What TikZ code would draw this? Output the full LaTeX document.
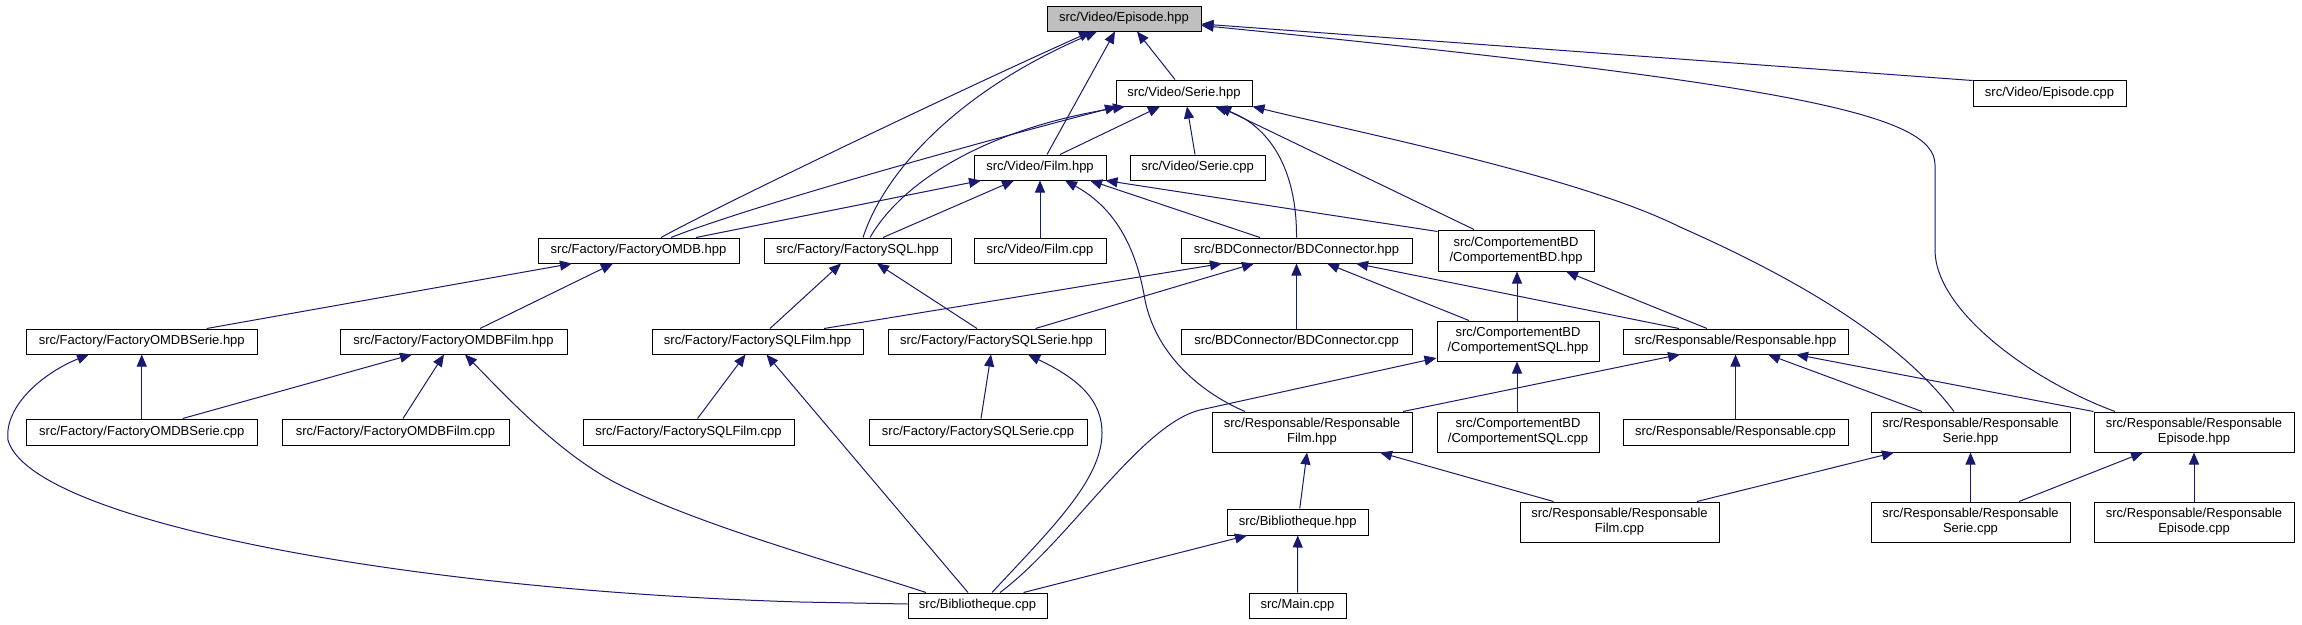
\documentclass[tikz,border=0pt]{standalone}
\usepackage{fontspec}
\setmainfont{Liberation Sans}
\usetikzlibrary{arrows.meta}
\definecolor{edgecol}{HTML}{191970}
\definecolor{focusfill}{HTML}{BFBFBF}
\begin{document}
\begin{tikzpicture}[x=1pt,y=-1pt,
  box/.style={draw=black, line width=1pt, fill=white, inner sep=0pt, align=center,
              font=\fontsize{13pt}{15pt}\selectfont},
  edge/.style={draw=edgecol, line width=1pt, -{Triangle[length=12pt,width=10pt]}}]
\fill[white] (0,0) rectangle (2302,624);
\useasboundingbox (0,0) rectangle (2302,624);

% nodes
\node[box, fill=focusfill, minimum width=154pt, minimum height=25pt] (ep) at (1124,18.5) {src/Video/Episode.hpp};
\node[box, minimum width=136pt, minimum height=26pt] (serh) at (1184,93) {src/Video/Serie.hpp};
\node[box, minimum width=153pt, minimum height=26pt] (epc) at (2049.5,93) {src/Video/Episode.cpp};
\node[box, minimum width=132pt, minimum height=25pt] (filmh) at (1040,167.5) {src/Video/Film.hpp};
\node[box, minimum width=135pt, minimum height=25pt] (seriec) at (1197.5,167.5) {src/Video/Serie.cpp};
\node[box, minimum width=201pt, minimum height=25pt] (omdb) at (638.5,250.5) {src/Factory/FactoryOMDB.hpp};
\node[box, minimum width=187pt, minimum height=25pt] (sql) at (857.5,250.5) {src/Factory/FactorySQL.hpp};
\node[box, minimum width=132pt, minimum height=25pt] (filmc) at (1040,250.5) {src/Video/Film.cpp};
\node[box, minimum width=231pt, minimum height=25pt] (bdc) at (1296.5,250.5) {src/BDConnector/BDConnector.hpp};
\node[box, minimum width=156pt, minimum height=41pt] (cbd) at (1516,250.5) {src/ComportementBD\\/ComportementBD.hpp};
\node[box, minimum width=230.5pt, minimum height=25pt] (omdbserh) at (141.75,341.5) {src/Factory/FactoryOMDBSerie.hpp};
\node[box, minimum width=227pt, minimum height=25pt] (omdbfilmh) at (453.5,341.5) {src/Factory/FactoryOMDBFilm.hpp};
\node[box, minimum width=211pt, minimum height=25pt] (sqlfilmh) at (757.5,341.5) {src/Factory/FactorySQLFilm.hpp};
\node[box, minimum width=217pt, minimum height=25pt] (sqlserh) at (996.5,341.5) {src/Factory/FactorySQLSerie.hpp};
\node[box, minimum width=231pt, minimum height=25pt] (bdcc) at (1296.5,341.5) {src/BDConnector/BDConnector.cpp};
\node[box, minimum width=162pt, minimum height=40pt] (csql) at (1518,341) {src/ComportementBD\\/ComportementSQL.hpp};
\node[box, minimum width=225pt, minimum height=25pt] (resp) at (1735.5,341.5) {src/Responsable/Responsable.hpp};
\node[box, minimum width=230.5pt, minimum height=26pt] (omdbserc) at (141.75,432) {src/Factory/FactoryOMDBSerie.cpp};
\node[box, minimum width=227pt, minimum height=26pt] (omdbfilmc) at (395.5,432) {src/Factory/FactoryOMDBFilm.cpp};
\node[box, minimum width=211pt, minimum height=26pt] (sqlfilmc) at (688.5,432) {src/Factory/FactorySQLFilm.cpp};
\node[box, minimum width=218pt, minimum height=26pt] (sqlserc) at (978,432) {src/Factory/FactorySQLSerie.cpp};
\node[box, minimum width=200pt, minimum height=40pt] (respfilmh) at (1312,432) {src/Responsable/Responsable\\Film.hpp};
\node[box, minimum width=162pt, minimum height=40pt] (csqlc) at (1518,432) {src/ComportementBD\\/ComportementSQL.cpp};
\node[box, minimum width=225pt, minimum height=26pt] (respc) at (1735.5,432) {src/Responsable/Responsable.cpp};
\node[box, minimum width=199pt, minimum height=40pt] (respserh) at (1970.5,432) {src/Responsable/Responsable\\Serie.hpp};
\node[box, minimum width=200pt, minimum height=40pt] (respeph) at (2194,432) {src/Responsable/Responsable\\Episode.hpp};
\node[box, minimum width=140.5pt, minimum height=26pt] (bibh) at (1297.75,522) {src/Bibliotheque.hpp};
\node[box, minimum width=199pt, minimum height=40pt] (respfilmc) at (1619.5,522) {src/Responsable/Responsable\\Film.cpp};
\node[box, minimum width=199pt, minimum height=40pt] (respserc) at (1970.5,522) {src/Responsable/Responsable\\Serie.cpp};
\node[box, minimum width=200pt, minimum height=40pt] (respepc) at (2194,522) {src/Responsable/Responsable\\Episode.cpp};
\node[box, minimum width=139pt, minimum height=25pt] (bibc) at (977.5,605.5) {src/Bibliotheque.cpp};
\node[box, minimum width=97pt, minimum height=25pt] (mainc) at (1297.5,605.5) {src/Main.cpp};

% edges to Episode.hpp
\draw[edge] ([xshift=-9pt]serh.north) -- ([xshift=13pt]ep.south);
\draw[edge] ([xshift=7pt]filmh.north) -- ([xshift=-9pt]ep.south);
\draw[edge] ([xshift=22.5pt]omdb.north) .. controls (720,205) and (960,90) .. ([xshift=-33pt]ep.south);
\draw[edge] ([xshift=5.5pt]sql.north) .. controls (885,170) and (960,90) .. ([xshift=-27pt]ep.south);
\draw[edge] ([yshift=-1pt]epc.north west) -- ([yshift=-5.5pt]ep.east);
\draw[edge] ([xshift=-79pt]respeph.north) .. controls (2030,380) and (1935,310) .. (1935,250) -- (1935,165) .. controls (1935,115) and (1800,85) .. ([yshift=-7pt]ep.east);

% edges to Serie.hpp
\draw[edge] ([xshift=20pt]filmh.north) -- ([xshift=-24pt]serh.south);
\draw[edge] ([xshift=-2.5pt]seriec.north) -- ([xshift=3pt]serh.south);
\draw[edge] ([xshift=32.5pt]omdb.north) .. controls (740,210) and (950,150) .. ([xshift=-67pt]serh.south);
\draw[edge] ([xshift=12.5pt]sql.north) .. controls (900,185) and (980,130) .. ([xshift=-59pt]serh.south);
\draw[edge] (bdc.north) .. controls (1297,170) and (1270,125) .. ([xshift=31pt]serh.south);
\draw[edge] ([xshift=-42pt]cbd.north) -- ([xshift=35pt]serh.south);
\draw[edge] ([xshift=-16.5pt]respserh.north) .. controls (1900,340) and (1800,280) .. (1680,227) .. controls (1580,177) and (1365,134) .. (serh.south east);

% edges to Film.hpp
\draw[edge] (filmc.north) -- (filmh.south);
\draw[edge] ([xshift=57.5pt]omdb.north) -- ([xshift=-59pt]filmh.south);
\draw[edge] ([xshift=25.5pt]sql.north) -- ([xshift=-26pt]filmh.south);
\draw[edge] ([xshift=-67pt]respfilmh.north) .. controls (1195,390) and (1155,350) .. (1145,300) .. controls (1135,240) and (1110,205) .. ([xshift=25pt]filmh.south);
\draw[edge] ([xshift=-36.5pt]bdc.north) -- ([xshift=50pt]filmh.south);
\draw[edge] ([yshift=-2pt]cbd.north west) -- ([xshift=-1pt]filmh.south east);

% second row targets
\draw[edge] ([xshift=65pt]omdbserh.north) -- ([xshift=-66.5pt]omdb.south);
\draw[edge] ([xshift=26.5pt]omdbfilmh.north) -- ([xshift=-25.5pt]omdb.south);
\draw[edge] ([xshift=12.5pt]sqlfilmh.north) -- ([xshift=-16.5pt]sql.south);
\draw[edge] ([xshift=-19.5pt]sqlserh.north) -- ([xshift=19.5pt]sql.south);
\draw[edge] ([xshift=66.5pt]sqlfilmh.north) -- ([xshift=-74.5pt]bdc.south);
\draw[edge] ([xshift=39pt]sqlserh.north) -- ([xshift=-42.5pt]bdc.south);
\draw[edge] (bdcc.north) -- (bdc.south);
\draw[edge] ([xshift=-49pt]csql.north) -- ([xshift=30.5pt]bdc.south);
\draw[edge] ([xshift=-56.5pt]resp.north) -- ([xshift=59.5pt]bdc.south);
\draw[edge] ([xshift=-1pt]csql.north) -- ([xshift=1pt]cbd.south);
\draw[edge] ([xshift=-28.5pt]resp.north) -- ([xshift=50pt]cbd.south);

% third row targets
\draw[edge] (omdbserc.north) -- (omdbserh.south);
\draw[edge] ([yshift=1.5pt]bibc.west) -- (800,602) .. controls (400,590) and (30,520) .. (8,440) .. controls (4,405) and (45,372) .. ([xshift=-52.75pt]omdbserh.south);
\draw[edge] ([xshift=41pt]omdbserc.north) -- ([xshift=-41.5pt]omdbfilmh.south);
\draw[edge] ([xshift=7.5pt]omdbfilmc.north) -- ([xshift=-9.5pt]omdbfilmh.south);
\draw[edge] ([xshift=-51.5pt]bibc.north) .. controls (826,560) and (700,525) .. (620,485) .. controls (560,455) and (505,395) .. ([xshift=11.5pt]omdbfilmh.south);
\draw[edge] ([xshift=9pt]sqlfilmc.north) -- ([xshift=-12pt]sqlfilmh.south);
\draw[edge] ([xshift=-9.5pt]bibc.north) -- ([xshift=9pt]sqlfilmh.south);
\draw[edge] ([xshift=3pt]sqlserc.north) -- ([xshift=-5.5pt]sqlserh.south);
\draw[edge] ([xshift=14.5pt]bibc.north) .. controls (1050,530) and (1102,480) .. (1102,433) .. controls (1102,395) and (1070,375) .. ([xshift=31.5pt]sqlserh.south);
\draw[edge] ([xshift=-1pt]csqlc.north) -- ([xshift=-1pt]csql.south);
\draw[edge] ([xshift=22.5pt]bibc.north) .. controls (1070,540) and (1140,425) .. (1200,410) -- ([yshift=-17pt]csql.west);
\draw[edge] ([xshift=91pt]respfilmh.north) -- ([xshift=-55.5pt]resp.south);
\draw[edge] (respc.north) -- (resp.south);
\draw[edge] ([xshift=-48.5pt]respserh.north) -- ([xshift=32.5pt]resp.south);
\draw[edge] (respeph.north west) -- ([xshift=60.5pt]resp.south);

% lower rows
\draw[edge] ([xshift=2pt]bibh.north) -- ([xshift=-5pt]respfilmh.south);
\draw[edge] ([xshift=-66pt]respfilmc.north) -- ([xshift=68pt]respfilmh.south);
\draw[edge] ([xshift=77.5pt]respfilmc.north) -- ([xshift=-76.5pt]respserh.south);
\draw[edge] (respserc.north) -- (respserh.south);
\draw[edge] ([xshift=48.5pt]respserc.north) -- ([xshift=-51pt]respeph.south);
\draw[edge] (respepc.north) -- (respeph.south);
\draw[edge] ([xshift=46pt]bibc.north) -- ([xshift=-50.75pt]bibh.south);
\draw[edge] (mainc.north) -- (bibh.south);
\end{tikzpicture}
\end{document}
